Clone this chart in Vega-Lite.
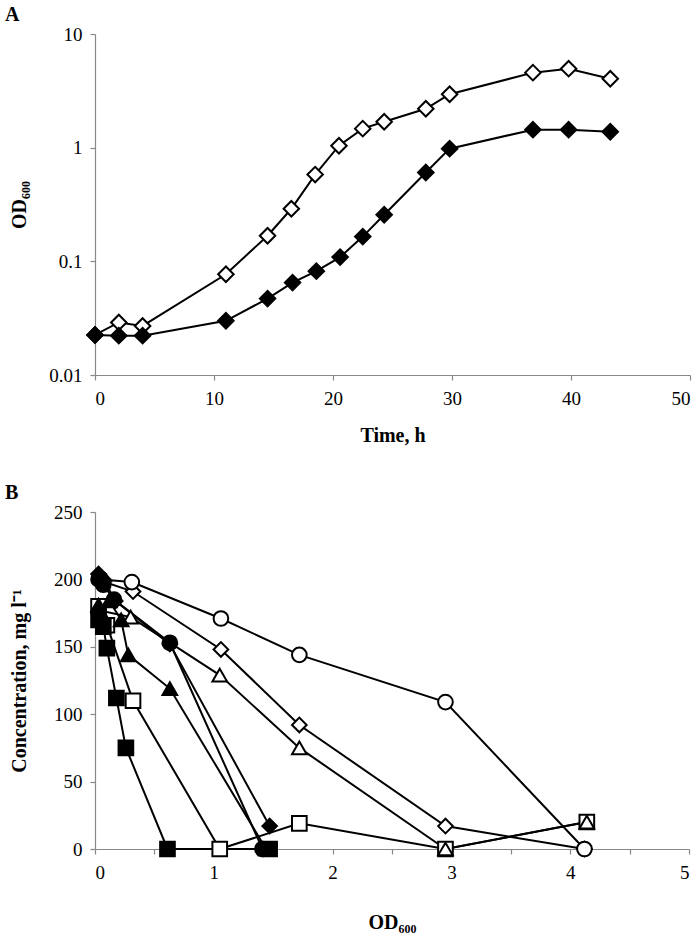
{
  "$schema": "https://vega.github.io/schema/vega-lite/v6.json",
  "background": "white",
  "padding": {"left": 5, "top": 5, "right": 2, "bottom": 2},
  "config": {
    "font": "Liberation Serif",
    "view": {"stroke": null},
    "axis": {
      "grid": false,
      "domainColor": "#888888",
      "tickColor": "#888888",
      "domainWidth": 1.2,
      "tickWidth": 1.2,
      "tickSize": 5,
      "labelFont": "Liberation Serif",
      "labelFontSize": 19,
      "labelColor": "black",
      "titleFont": "Liberation Serif",
      "titleFontSize": 20,
      "titleFontWeight": "bold",
      "titleColor": "black"
    },
    "title": {"font": "Liberation Serif", "fontSize": 20, "fontWeight": "bold", "anchor": "start", "frame": "bounds", "color": "black"},
    "concat": {"spacing": 38}
  },
  "resolve": {"scale": {"fill": "independent", "shape": "independent"}},
  "vconcat": [
    {
      "title": {"text": "A", "offset": 0, "dx": -4},
      "width": 595,
      "height": 341,
      "data": {"values": [
        {"t": 0, "od": 0.0225, "s": "open"},
        {"t": 2, "od": 0.029, "s": "open"},
        {"t": 4, "od": 0.027, "s": "open"},
        {"t": 11, "od": 0.077, "s": "open"},
        {"t": 14.5, "od": 0.168, "s": "open"},
        {"t": 16.5, "od": 0.29, "s": "open"},
        {"t": 18.5, "od": 0.58, "s": "open"},
        {"t": 20.5, "od": 1.04, "s": "open"},
        {"t": 22.5, "od": 1.47, "s": "open"},
        {"t": 24.3, "od": 1.69, "s": "open"},
        {"t": 27.8, "od": 2.2, "s": "open"},
        {"t": 29.8, "od": 2.95, "s": "open"},
        {"t": 36.8, "od": 4.57, "s": "open"},
        {"t": 39.8, "od": 4.95, "s": "open"},
        {"t": 43.3, "od": 4.04, "s": "open"},
        {"t": 0, "od": 0.0225, "s": "filled"},
        {"t": 2, "od": 0.0222, "s": "filled"},
        {"t": 4, "od": 0.0222, "s": "filled"},
        {"t": 11, "od": 0.030, "s": "filled"},
        {"t": 14.5, "od": 0.047, "s": "filled"},
        {"t": 16.6, "od": 0.065, "s": "filled"},
        {"t": 18.6, "od": 0.082, "s": "filled"},
        {"t": 20.6, "od": 0.109, "s": "filled"},
        {"t": 22.5, "od": 0.165, "s": "filled"},
        {"t": 24.3, "od": 0.257, "s": "filled"},
        {"t": 27.8, "od": 0.605, "s": "filled"},
        {"t": 29.8, "od": 0.98, "s": "filled"},
        {"t": 36.8, "od": 1.44, "s": "filled"},
        {"t": 39.8, "od": 1.44, "s": "filled"},
        {"t": 43.3, "od": 1.38, "s": "filled"}
      ]},
      "encoding": {
        "x": {"field": "t", "type": "quantitative", "scale": {"domain": [0, 50], "nice": false, "zero": false},
              "axis": {"values": [0, 10, 20, 30, 40, 50], "title": "Time, h", "labelPadding": 9, "titlePadding": 17}},
        "y": {"field": "od", "type": "quantitative", "scale": {"type": "log", "domain": [0.01, 10], "nice": false},
              "axis": {"values": [0.01, 0.1, 1, 10], "format": "~g", "title": "OD₆₀₀", "labelPadding": 8, "titleX": -66}}
      },
      "layer": [
        {"mark": {"type": "line", "color": "black", "strokeWidth": 2}, "encoding": {"detail": {"field": "s"}}},
        {"mark": {"type": "point", "shape": "diamond", "filled": true, "size": 240, "stroke": "black", "strokeWidth": 2, "opacity": 1},
         "encoding": {"fill": {"field": "s", "type": "nominal", "scale": {"domain": ["open", "filled"], "range": ["white", "black"]}, "legend": null}}}
      ]
    },
    {
      "title": {"text": "B", "offset": 0, "dx": -4},
      "width": 594,
      "height": 337,
      "data": {"values": [
        {"x": 0.05, "c": 199, "ser": "od"}, {"x": 0.32, "c": 191, "ser": "od"}, {"x": 1.06, "c": 148, "ser": "od"}, {"x": 1.72, "c": 92, "ser": "od"}, {"x": 2.95, "c": 17, "ser": "od"}, {"x": 4.12, "c": 0, "ser": "od"},
        {"x": 0.05, "c": 200, "ser": "oc"}, {"x": 0.31, "c": 198, "ser": "oc"}, {"x": 1.06, "c": 171, "ser": "oc"}, {"x": 1.72, "c": 144, "ser": "oc"}, {"x": 2.95, "c": 109, "ser": "oc"}, {"x": 4.12, "c": 0, "ser": "oc"},
        {"x": 0.03, "c": 180, "ser": "os"}, {"x": 0.1, "c": 166, "ser": "os"}, {"x": 0.32, "c": 110, "ser": "os"}, {"x": 1.05, "c": 0, "ser": "os"}, {"x": 1.72, "c": 19, "ser": "os"}, {"x": 2.95, "c": 0, "ser": "os"}, {"x": 4.14, "c": 20, "ser": "os"},
        {"x": 0.04, "c": 177, "ser": "ot"}, {"x": 0.3, "c": 172, "ser": "ot"}, {"x": 1.05, "c": 129, "ser": "ot"}, {"x": 1.72, "c": 75, "ser": "ot"}, {"x": 2.95, "c": 0, "ser": "ot"}, {"x": 4.14, "c": 20, "ser": "ot"},
        {"x": 0.03, "c": 170, "ser": "fs"}, {"x": 0.07, "c": 165, "ser": "fs"}, {"x": 0.1, "c": 149, "ser": "fs"}, {"x": 0.18, "c": 112, "ser": "fs"}, {"x": 0.26, "c": 75, "ser": "fs"}, {"x": 0.61, "c": 0, "ser": "fs"}, {"x": 1.47, "c": 0, "ser": "fs"},
        {"x": 0.03, "c": 181, "ser": "ft"}, {"x": 0.12, "c": 184, "ser": "ft"}, {"x": 0.22, "c": 170, "ser": "ft"}, {"x": 0.28, "c": 144, "ser": "ft"}, {"x": 0.63, "c": 119, "ser": "ft"}, {"x": 1.44, "c": 0, "ser": "ft"},
        {"x": 0.03, "c": 200, "ser": "fc"}, {"x": 0.07, "c": 196, "ser": "fc"}, {"x": 0.16, "c": 185, "ser": "fc"}, {"x": 0.63, "c": 153, "ser": "fc"}, {"x": 1.41, "c": 0, "ser": "fc"},
        {"x": 0.03, "c": 204, "ser": "fd"}, {"x": 0.08, "c": 199, "ser": "fd"}, {"x": 0.17, "c": 184, "ser": "fd"}, {"x": 0.63, "c": 152, "ser": "fd"}, {"x": 1.47, "c": 17, "ser": "fd"}
      ]},
      "encoding": {
        "x": {"field": "x", "type": "quantitative", "scale": {"domain": [0, 5], "nice": false},
              "axis": {"values": [0, 0.5, 1, 1.5, 2, 2.5, 3, 3.5, 4, 4.5, 5], "format": "~g", "labelExpr": "datum.value % 1 == 0 ? datum.label : ''", "title": "OD₆₀₀", "labelPadding": 9, "titlePadding": 30}},
        "y": {"field": "c", "type": "quantitative", "scale": {"domain": [0, 250], "nice": false},
              "axis": {"values": [0, 50, 100, 150, 200, 250], "title": "Concentration, mg l⁻¹", "labelPadding": 8, "titleX": -66}}
      },
      "layer": [
        {"mark": {"type": "line", "color": "black", "strokeWidth": 2}, "encoding": {"detail": {"field": "ser"}}},
        {"mark": {"type": "point", "filled": true, "size": 215, "stroke": "black", "strokeWidth": 2, "opacity": 1},
         "encoding": {
           "shape": {"field": "ser", "type": "nominal", "scale": {"domain": ["oc", "od", "os", "ot", "fs", "ft", "fc", "fd"], "range": ["circle", "diamond", "square", "triangle-up", "square", "triangle-up", "circle", "diamond"]}, "legend": null},
           "fill": {"field": "ser", "type": "nominal", "scale": {"domain": ["oc", "od", "os", "ot", "fs", "ft", "fc", "fd"], "range": ["white", "white", "white", "white", "black", "black", "black", "black"]}, "legend": null}
         }}
      ]
    }
  ]
}
